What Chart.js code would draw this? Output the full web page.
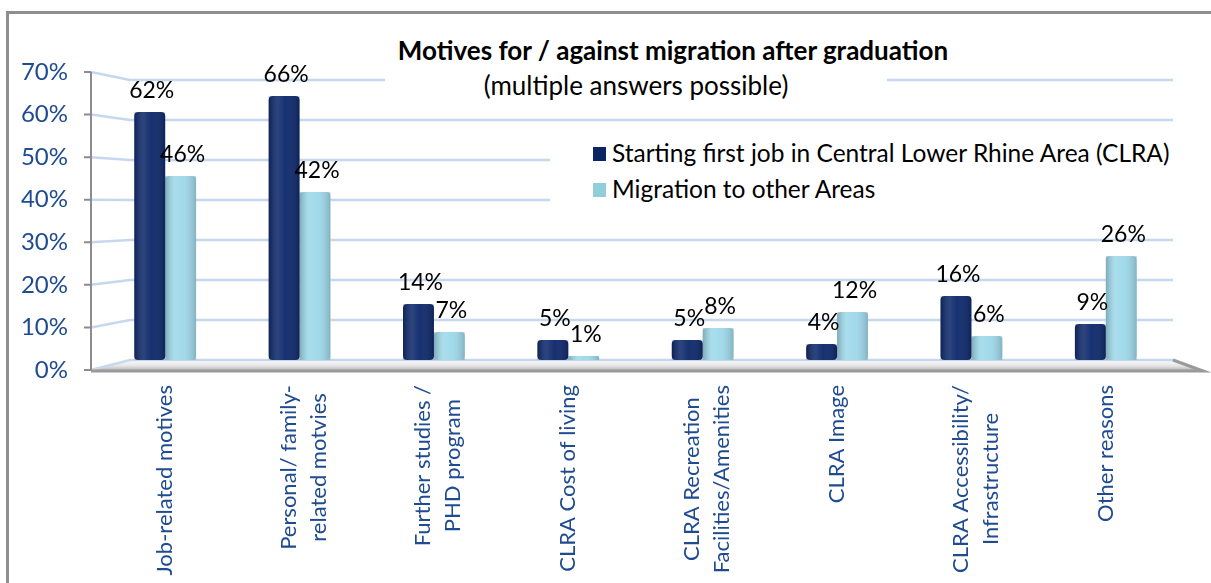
<!DOCTYPE html>
<html>
<head>
<meta charset="utf-8">
<script src="https://cdn.jsdelivr.net/npm/chart.js@4.4.1/dist/chart.umd.min.js"></script>
<style>
  html, body { margin: 0; padding: 0; background: #fff; overflow: hidden; }
  #wrap { position: relative; width: 1211px; height: 583px; font-family: Lato, 'Open Sans', sans-serif; }
  #frame { position: absolute; left: 6px; top: 11px; width: 1300px; height: 700px; border-left: 3px solid #8e8e8e; border-top: 3px solid #8e8e8e; }
  canvas { position: absolute; left: 0; top: 0; }
  .title { position: absolute; left: 384px; top: 34px; width: 578px; text-align: center; font-weight: bold; font-size: 26px; color: #000; background: #fff; line-height: 32px; }
  .subtitle { position: absolute; left: 385px; top: 68px; width: 502px; height: 34px; text-align: center; font-size: 26px; color: #000; line-height: 34px; background: #fff; }
  #legend { position: absolute; left: 550px; top: 134px; width: 640px; height: 78px; background: #fff; }
  .item { position: absolute; left: 43px; font-size: 24.5px; color: #000; line-height: 30px; white-space: nowrap; }
  .item i { display: inline-block; width: 13px; height: 14px; margin-right: 6px; vertical-align: 1px; }
</style>
</head>
<body>
<div id="wrap">
  <div id="frame"></div>
  <canvas id="motivesChart" width="1211" height="583"></canvas>
  <div class="title">Motives for / against migration after graduation</div>
  <div class="subtitle">(multiple answers possible)</div>
  <div id="legend"></div>
</div>
<script>
const categories = [
  ['Job-related motives'],
  ['Personal/ family-', 'related motvies'],
  ['Further studies /', 'PHD program'],
  ['CLRA Cost of living'],
  ['CLRA Recreation', 'Facilities/Amenities'],
  ['CLRA Image'],
  ['CLRA Accessibility/', 'Infrastructure'],
  ['Other reasons'],
];
const firstJobCLRA = [62, 66, 14, 5, 5, 4, 16, 9];
const migrationOther = [46, 42, 7, 1, 8, 12, 6, 26];
const seriesNames = ['Starting first job in Central Lower Rhine Area (CLRA)', 'Migration to other Areas'];
const yTicks = [0, 10, 20, 30, 40, 50, 60, 70];

const darkBlue = '#0f2a6c';
const lightBlue = '#9fd9ea';
const axisBlue = '#1f4b91';

// legend (html, white box hides the gridlines like in the original)
document.getElementById('legend').innerHTML = seriesNames.map((name, i) => (
  `<div class="item" style="top:${4 + i * 36}px"><i style="background:${i ? '#92cddc' : '#0c2461'}"></i>${name}</div>`
)).join('');

// floor, 3d-ish gridlines and the front axis
const backWall = {
  id: 'backWall',
  beforeDatasetsDraw(chart) {
    const { ctx, chartArea: { left, right, top }, scales: { y, yb } } = chart;
    const axisX = left - 7;
    const backL = left + 32;
    const f0 = y.getPixelForValue(0);
    const b0 = yb.getPixelForValue(0);
    ctx.save();
    const g = ctx.createLinearGradient(0, b0, 0, f0);
    g.addColorStop(0, '#fdfdfd');
    g.addColorStop(0.6, '#e4e4e4');
    g.addColorStop(1, '#b8b8b8');
    ctx.beginPath();
    ctx.moveTo(axisX + 2, f0);
    ctx.lineTo(backL, b0);
    ctx.lineTo(right, b0);
    ctx.lineTo(right + 30, f0);
    ctx.closePath();
    ctx.fillStyle = g;
    ctx.fill();
    ctx.strokeStyle = '#c6d8ee';
    ctx.lineWidth = 2.5;
    yTicks.forEach((v) => {
      ctx.beginPath();
      ctx.moveTo(axisX, y.getPixelForValue(v));
      ctx.lineTo(backL, yb.getPixelForValue(v));
      ctx.lineTo(right, yb.getPixelForValue(v));
      ctx.stroke();
    });
    ctx.strokeStyle = '#9a9a9a';
    ctx.lineWidth = 3;
    ctx.beginPath();
    ctx.moveTo(axisX, f0 + 1);
    ctx.lineTo(right + 30, f0 + 1);
    ctx.lineTo(right, b0);
    ctx.stroke();
    ctx.strokeStyle = '#8c8c8c';
    ctx.lineWidth = 2;
    ctx.beginPath();
    ctx.moveTo(axisX, top);
    ctx.lineTo(axisX, f0);
    yTicks.forEach((v) => {
      ctx.moveTo(axisX - 7, y.getPixelForValue(v));
      ctx.lineTo(axisX, y.getPixelForValue(v));
    });
    ctx.stroke();
    ctx.restore();
  },
  afterDatasetsDraw(chart) {
    const { ctx } = chart;
    ctx.save();
    chart.data.datasets.forEach((ds, di) => {
      chart.getDatasetMeta(di).data.forEach((bar, i) => {
        const x0 = bar.x - bar.width / 2;
        const x1 = bar.x + bar.width / 2;
        // cylinder shading
        const g = ctx.createLinearGradient(x0, 0, x1, 0);
        g.addColorStop(0, 'rgba(0,0,0,0.22)');
        g.addColorStop(0.3, 'rgba(255,255,255,0.12)');
        g.addColorStop(0.55, 'rgba(255,255,255,0.03)');
        g.addColorStop(1, 'rgba(0,0,0,0.18)');
        ctx.fillStyle = g;
        ctx.fillRect(x0, bar.y, bar.width, bar.base - bar.y);
        // value label
        ctx.fillStyle = '#000';
        ctx.font = '23px Lato';
        ctx.textAlign = 'center';
        ctx.textBaseline = 'middle';
        ctx.fillText(ds.data[i] + '%', bar.x + 2, bar.y - 21);
      });
    });
    ctx.restore();
  },
  afterDraw(chart) {
    const { ctx, scales: { x } } = chart;
    ctx.save();
    ctx.font = '22px Lato';
    ctx.fillStyle = axisBlue;
    ctx.textAlign = 'center';
    ctx.textBaseline = 'middle';
    categories.forEach((lines, i) => {
      const maxW = Math.max(...lines.map((l) => ctx.measureText(l).width));
      ctx.save();
      ctx.translate(x.getPixelForValue(i) + (lines.length > 1 ? 4 : 0), 385 + maxW / 2);
      ctx.rotate(-Math.PI / 2);
      lines.forEach((l, j) => ctx.fillText(l, 0, (j - (lines.length - 1) / 2) * 30));
      ctx.restore();
    });
    ctx.restore();
  },
};

const motivesChart = new Chart(document.getElementById('motivesChart').getContext('2d'), {
  type: 'bar',
  data: {
    labels: categories,
    datasets: [{
      label: seriesNames[0],
      data: firstJobCLRA,
      backgroundColor: darkBlue,
      yAxisID: 'yb',
    },
    {
      label: seriesNames[1],
      data: migrationOther,
      backgroundColor: lightBlue,
      yAxisID: 'yb',
    },
    ],
  },
  options: {
    responsive: false,
    animation: false,
    layout: {
      padding: { left: 0, right: 38, top: 72, bottom: 213 },
    },
    datasets: {
      bar: {
        categoryPercentage: 0.46,
        barPercentage: 1,
        borderRadius: 4,
        borderSkipped: false,
      },
    },
    scales: {
      x: {
        display: false,
        offset: true,
      },
      y: {
        position: 'left',
        min: 0,
        max: 70,
        afterBuildTicks: (scale) => { scale.ticks = yTicks.map((v) => ({ value: v })); },
        afterFit: (scale) => { scale.width = 98; },
        grid: { display: false },
        border: { display: false },
        ticks: {
          padding: 22,
          color: axisBlue,
          font: { family: 'Lato', size: 24 },
          callback: (v) => v + '%',
        },
      },
      yb: {
        display: false,
        min: -2.5,
        max: 72,
      },
    },
    plugins: {
      legend: { display: false },
      tooltip: { enabled: false },
    },
  },
  plugins: [backWall],
});
</script>
</body>
</html>
